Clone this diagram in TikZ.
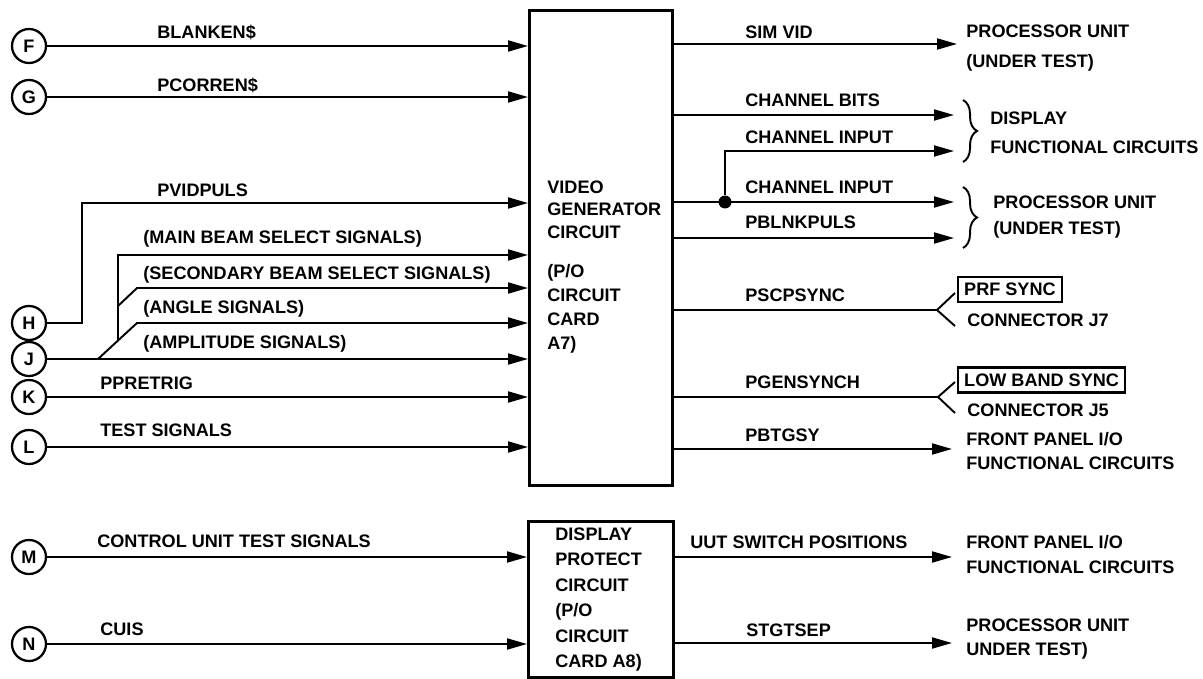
\documentclass[tikz,border=0pt]{standalone}
\usepackage{fontspec}
\setmainfont{Liberation Sans}
\usepackage{tikz}
\usetikzlibrary{arrows.meta,positioning,decorations.pathreplacing,calc}
\tikzset{
  conector/.style={draw, circle, line width=1.3pt, minimum size=6.8mm, inner sep=0pt, font=\bfseries\fontsize{10.3}{12}\selectfont},
  bloque/.style={draw, line width=1.5pt, inner sep=0pt, anchor=north west},
  rotulo/.style={anchor=west, inner sep=0pt, text height=7.4pt, text depth=0pt, font=\bfseries\fontsize{10.3}{12}\selectfont},
  destino/.style={anchor=west, inner sep=0pt, align=left, font=\bfseries\fontsize{10.3}{13.7}\selectfont},
  marco/.style={draw, line width=1.2pt, anchor=west, inner xsep=3.5pt, inner ysep=0pt, minimum height=5mm, font=\bfseries\fontsize{10.3}{12}\selectfont},
  flecha/.style={-{Triangle[length=4mm, width=2.2mm]}, line width=1.1pt},
  linea/.style={line width=1.1pt},
  punto/.style={circle, fill, inner sep=0pt, minimum size=2.6mm},
  llave/.style={decorate, decoration={brace, amplitude=8pt}, line width=1.1pt},
}

\begin{document}
\begin{tikzpicture}[x=0.02cm, y=-0.02cm]
\useasboundingbox (0,0) rectangle (1203,679);

% bloques
\node[bloque, minimum width=2.86cm, minimum height=9.5cm] (vgc) at (528,9) {};
\node[bloque, minimum width=2.9cm, minimum height=3.13cm] (dpc) at (527,520) {};
\node[destino, font=\bfseries\fontsize{10.3}{12.8}\selectfont] (vgtxt) at (547,209.5) {VIDEO\\GENERATOR\\CIRCUIT};
\node[destino] (vgcard) at (547,309) {(P/O\\CIRCUIT\\CARD\\A7)};
\node[destino, font=\bfseries\fontsize{10.3}{14.5}\selectfont] (dptxt) at (555,599.5) {DISPLAY\\PROTECT\\CIRCUIT\\(P/O\\CIRCUIT\\CARD A8)};

% conectores de entrada
\foreach \l/\y in {F/46, G/97, H/323, J/359, K/397, L/447, M/557, N/644}
  \node[conector] (\l) at (29,\y) {\l};

\foreach \l in {F,G,J,K,L}
  \draw[flecha] (\l) -- (\l -| vgc.west);
\foreach \l in {M,N}
  \draw[flecha] (\l) -- (\l -| dpc.west);

\coordinate (hcodo) at (82,323);
\coordinate (pv) at (82,203);
\draw[flecha] (H) -- (hcodo) -- (pv) -- (pv -| vgc.west);

% ramas de J
\coordinate (j0) at (98,359);
\coordinate (j1) at (137,323);
\coordinate (j2) at (118,340.5);
\coordinate (j3) at (118,306);
\coordinate (j4) at (137,288);
\coordinate (j5) at (118,255);
\draw[flecha] (j0) -- (j1) -- (j1 -| vgc.west);
\draw[flecha] (j2) -- (j5) -- (j5 -| vgc.west);
\draw[flecha] (j3) -- (j4) -- (j4 -| vgc.west);

% rotulos de entrada
\node[rotulo] (lblank) at (157,32) {BLANKEN\$};
\node[rotulo] (lpcorr) at (157,85) {PCORREN\$};
\node[rotulo] (lpvid) at (157,190) {PVIDPULS};
\node[rotulo] (lmain) at (143,237) {(MAIN BEAM SELECT SIGNALS)};
\node[rotulo] (lsec) at (143,273) {(SECONDARY BEAM SELECT SIGNALS)};
\node[rotulo] (lang) at (143,307) {(ANGLE SIGNALS)};
\node[rotulo] (lamp) at (143,342) {(AMPLITUDE SIGNALS)};
\node[rotulo] (lpre) at (100,383) {PPRETRIG};
\node[rotulo] (ltest) at (100,430) {TEST SIGNALS};
\node[rotulo] (lctrl) at (97,541) {CONTROL UNIT TEST SIGNALS};
\node[rotulo] (lcuis) at (100,629) {CUIS};

% salidas
\coordinate (t1) at (957,44);
\coordinate (t2) at (954,115);
\coordinate (t3) at (954,151);
\coordinate (t4) at (954,202);
\coordinate (t5) at (954,238);
\coordinate (t6) at (952,449);
\coordinate (t7) at (952,557);
\coordinate (t8) at (952,643);
\node[punto] (nudo) at (725,202) {};
\foreach \t in {t1,t2,t4,t5,t6}
  \draw[flecha] (vgc.east |- \t) -- (\t);
\draw[flecha] (nudo) -- (nudo |- t3) -- (t3);
\foreach \t in {t7,t8}
  \draw[flecha] (dpc.east |- \t) -- (\t);

\node[rotulo] (lsim) at (745,32) {SIM VID};
\node[rotulo] (lbits) at (745,100) {CHANNEL BITS};
\node[rotulo] (lin1) at (745,137) {CHANNEL INPUT};
\node[rotulo] (lin2) at (745,187) {CHANNEL INPUT};
\node[rotulo] (lblnk) at (745,222) {PBLNKPULS};
\node[rotulo] (lscp) at (745,295) {PSCPSYNC};
\node[rotulo] (lgen) at (745,382) {PGENSYNCH};
\node[rotulo] (lbtg) at (745,435) {PBTGSY};
\node[rotulo] (luut) at (690,542) {UUT SWITCH POSITIONS};
\node[rotulo] (lstg) at (746,630) {STGTSEP};

% sincronismos
\node[marco] (prf) at (957,289.5) {PRF SYNC};
\node[rotulo] (cj7) at (967,320) {CONNECTOR J7};
\coordinate (h1) at (937,310);
\coordinate (h1a) at (955,293);
\coordinate (h1b) at (955,326);
\draw[linea] (vgc.east |- h1) -- (h1);
\draw[linea] (h1a) -- (h1) -- (h1b);

\node[marco] (lbs) at (957,380) {LOW BAND SYNC};
\node[rotulo] (cj5) at (967,410) {CONNECTOR J5};
\coordinate (h2) at (938,397);
\coordinate (h2a) at (955,382);
\coordinate (h2b) at (955,413);
\draw[linea] (vgc.east |- h2) -- (h2);
\draw[linea] (h2a) -- (h2) -- (h2b);

% destinos
\node[destino] (pu1) at (966,48) {PROCESSOR UNIT\\[3.4pt](UNDER TEST)};
\node[destino] (disp) at (990,132.5) {DISPLAY\\[2.8pt]FUNCTIONAL CIRCUITS};
\node[destino] (pu2) at (993,217) {PROCESSOR UNIT\\[1.1pt](UNDER TEST)};
\node[destino] (fp1) at (966,451) {FRONT PANEL I/O\\FUNCTIONAL CIRCUITS};
\node[destino] (fp2) at (966,554.5) {FRONT PANEL I/O\\FUNCTIONAL CIRCUITS};
\node[destino] (pu3) at (966,639.5) {PROCESSOR UNIT\\UNDER TEST)};
\draw[llave] (963,100) -- (963,162);
\draw[llave] (963,187) -- (963,248);
\end{tikzpicture}
\end{document}
